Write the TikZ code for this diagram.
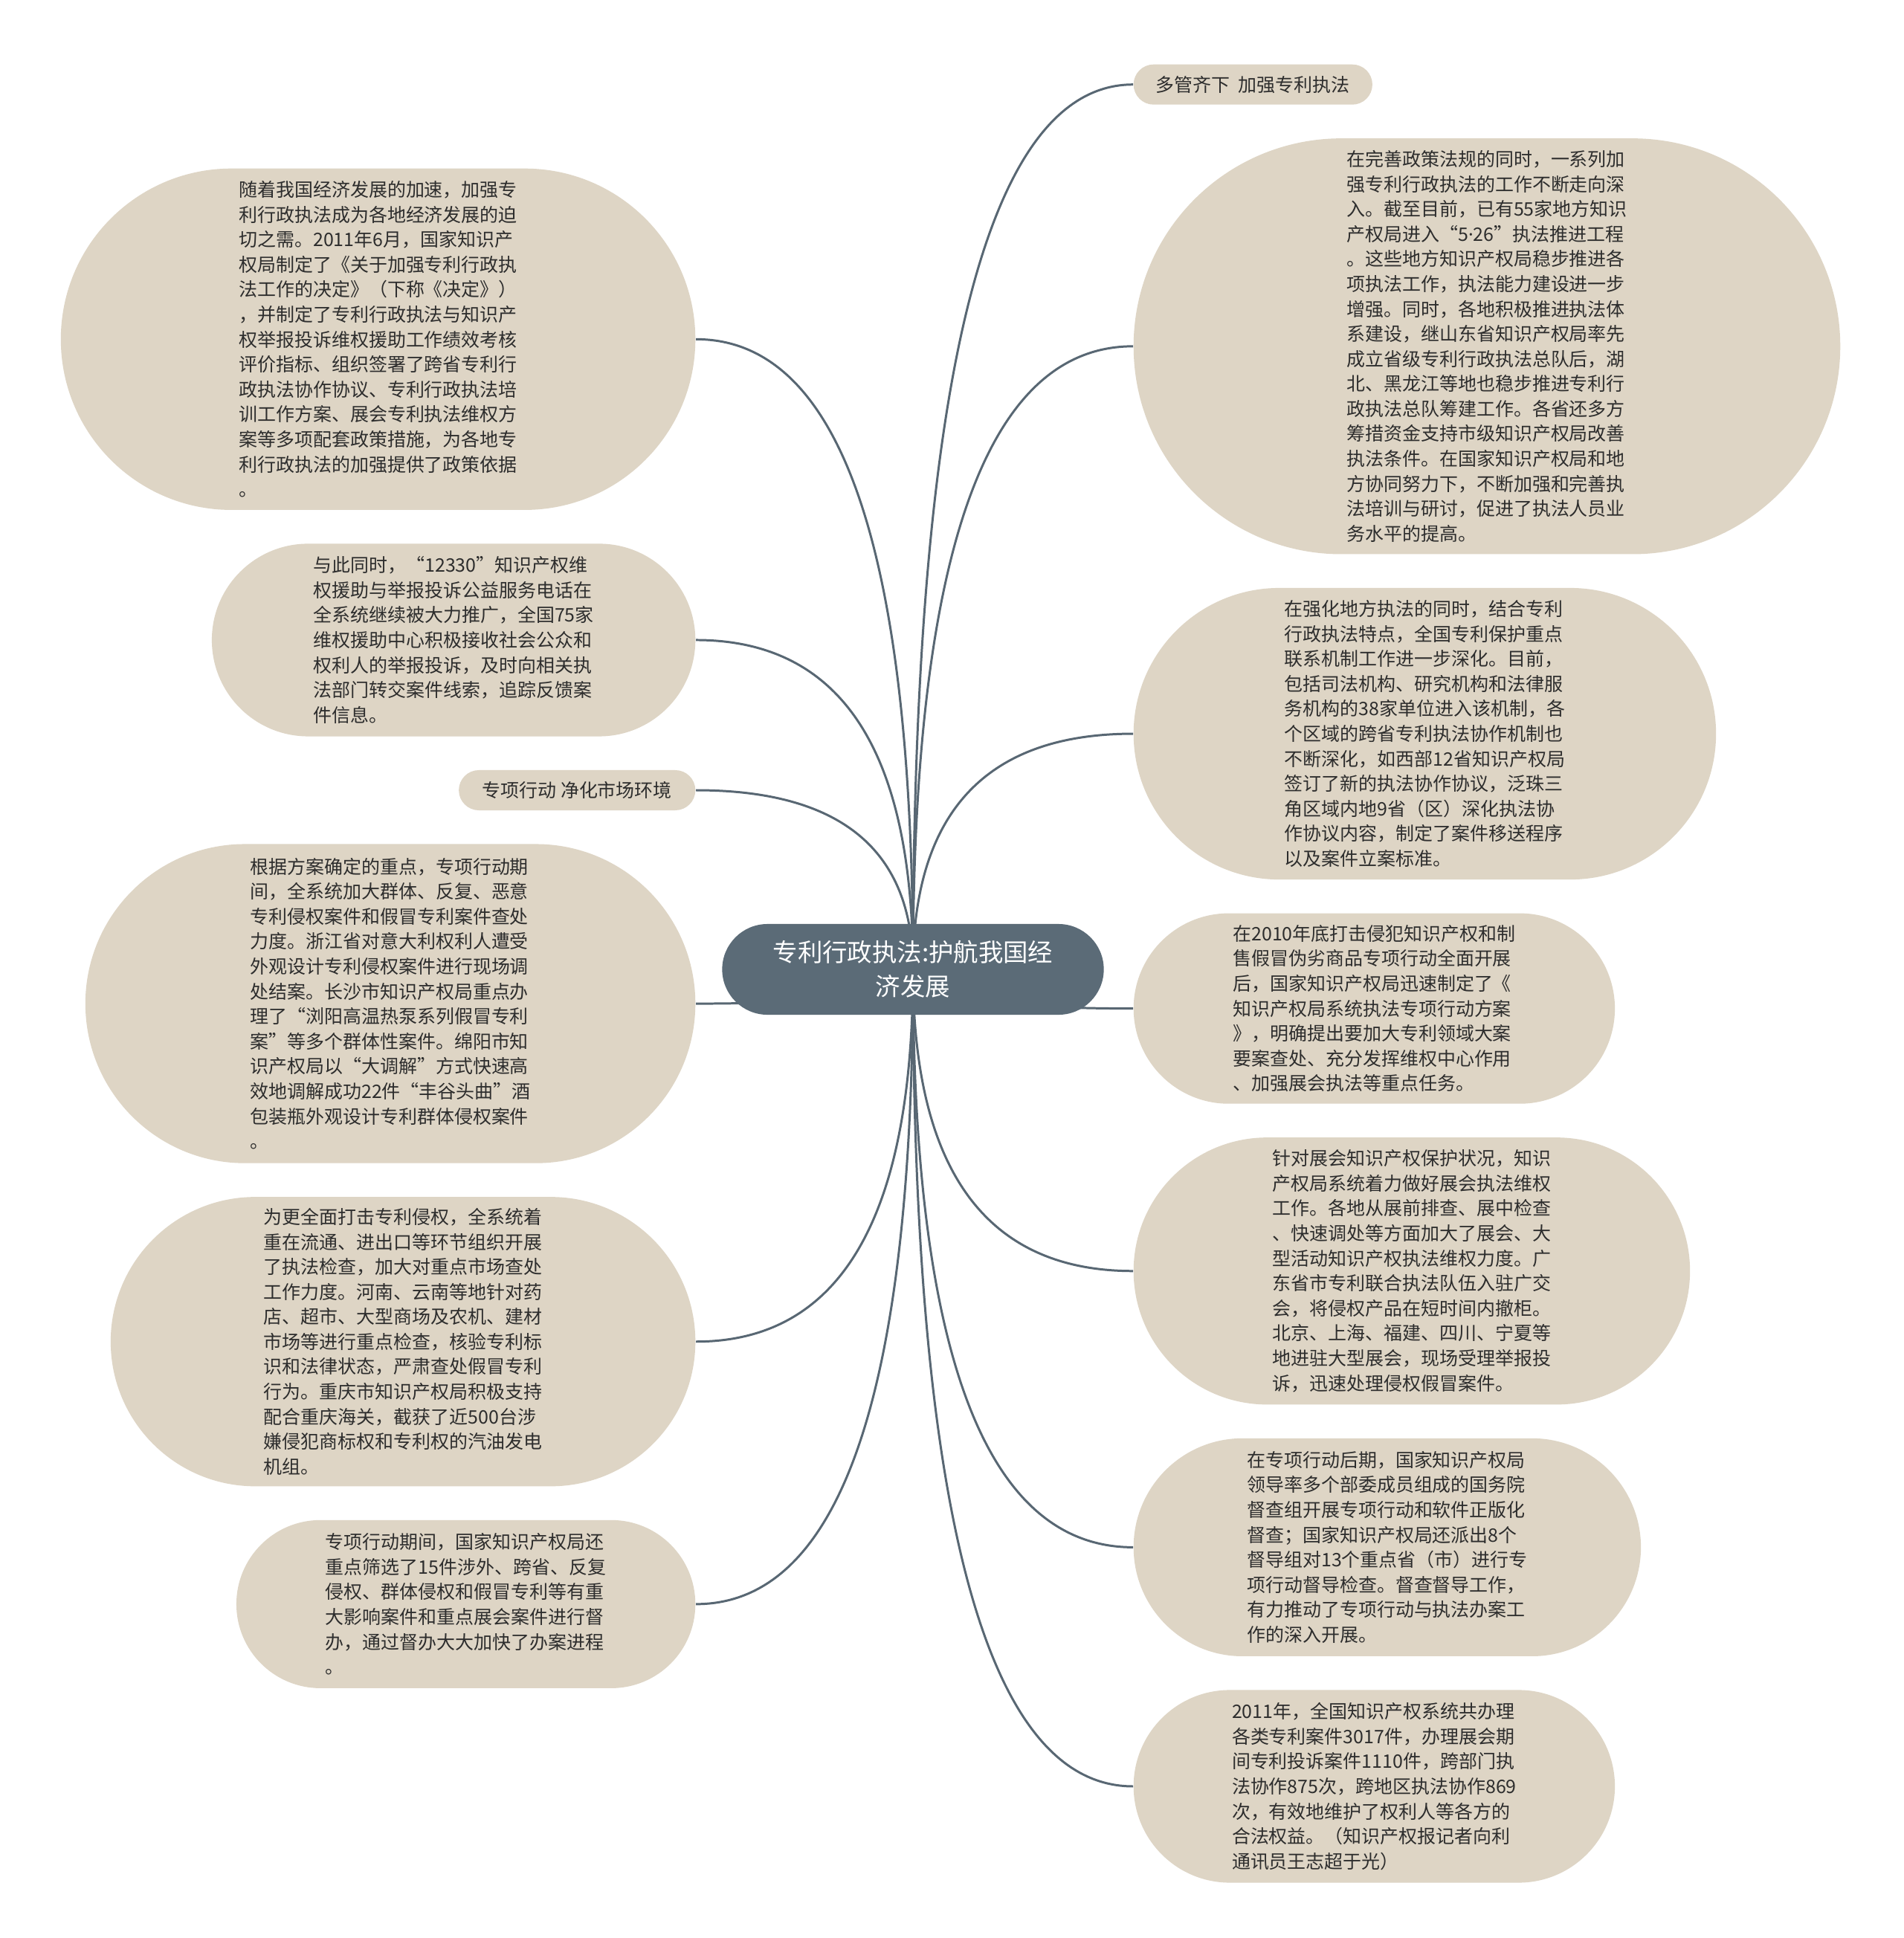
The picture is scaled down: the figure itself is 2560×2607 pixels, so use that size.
\documentclass[tikz,border=0pt]{standalone}
\usepackage{fontspec}
\setmainfont{Noto Sans CJK SC}
\newfontfamily\latinfont{Noto Sans}
\usetikzlibrary{positioning,calc,backgrounds}

\definecolor{leaffill}{RGB}{222,213,197}
\definecolor{hubfill}{RGB}{91,107,119}
\definecolor{linkcol}{RGB}{88,103,115}
\definecolor{inkcol}{RGB}{45,45,45}

\begin{document}
\begin{tikzpicture}[
    x=0.01cm, y=-0.01cm,
    node distance=4.4mm and 4.4mm,
    leaf/.style 2 args={
        fill=leaffill,
        text=inkcol,
        minimum width=#1,
        minimum height=#2,
        rounded corners=#2/2,
        inner sep=0pt,
        align=left,
        font=\fontsize{7.1pt}{9.55pt}\selectfont
    },
    pill/.style={leaf={#1}{0.54cm}, align=center},
    hub/.style={
        fill=hubfill,
        text=white,
        minimum width=5.13cm,
        minimum height=1.22cm,
        rounded corners=0.61cm,
        inner sep=0pt,
        align=center,
        font=\fontsize{9.5pt}{13.1pt}\selectfont
    },
    link/.style={
        draw=linkcol,
        line width=0.85pt,
        to path={.. controls ($(\tikztostart)!0.667!(\tikztostart |- \tikztotarget)$)
            and ($(\tikztotarget)!0.667!(\tikztostart |- \tikztotarget)$) .. (\tikztotarget)}
    }
]
\useasboundingbox (0,0) rectangle (2560,2607);

\node[hub] (core) at (1228,1304) {专利行政执法:护航我国经\\济发展};

% right column
\node[pill=3.21cm, anchor=north west] (multi) at (1524,86) {多管齐下~~加强专利执法};
\node[leaf={9.50cm}{5.59cm}, below=of multi.south west, anchor=north west] (rules) {在完善政策法规的同时，一系列加\\强专利行政执法的工作不断走向深\\入。截至目前，已有55家地方知识\\产权局进入“5{\latinfont ·}26”执法推进工程\\。这些地方知识产权局稳步推进各\\项执法工作，执法能力建设进一步\\增强。同时，各地积极推进执法体\\系建设，继山东省知识产权局率先\\成立省级专利行政执法总队后，湖\\北、黑龙江等地也稳步推进专利行\\政执法总队筹建工作。各省还多方\\筹措资金支持市级知识产权局改善\\执法条件。在国家知识产权局和地\\方协同努力下，不断加强和完善执\\法培训与研讨，促进了执法人员业\\务水平的提高。};
\node[leaf={7.83cm}{3.92cm}, below=of rules.south west, anchor=north west] (network) {在强化地方执法的同时，结合专利\\行政执法特点，全国专利保护重点\\联系机制工作进一步深化。目前，\\包括司法机构、研究机构和法律服\\务机构的38家单位进入该机制，各\\个区域的跨省专利执法协作机制也\\不断深化，如西部12省知识产权局\\签订了新的执法协作协议，泛珠三\\角区域内地9省（区）深化执法协\\作协议内容，制定了案件移送程序\\以及案件立案标准。};
\node[leaf={6.47cm}{2.56cm}, below=of network.south west, anchor=north west] (plan) {在2010年底打击侵犯知识产权和制\\售假冒伪劣商品专项行动全面开展\\后，国家知识产权局迅速制定了《\\知识产权局系统执法专项行动方案\\》，明确提出要加大专利领域大案\\要案查处、充分发挥维权中心作用\\、加强展会执法等重点任务。};
\node[leaf={7.48cm}{3.59cm}, below=of plan.south west, anchor=north west] (fairs) {针对展会知识产权保护状况，知识\\产权局系统着力做好展会执法维权\\工作。各地从展前排查、展中检查\\、快速调处等方面加大了展会、大\\型活动知识产权执法维权力度。广\\东省市专利联合执法队伍入驻广交\\会，将侵权产品在短时间内撤柜。\\北京、上海、福建、四川、宁夏等\\地进驻大型展会，现场受理举报投\\诉，迅速处理侵权假冒案件。};
\node[leaf={6.82cm}{2.93cm}, below=of fairs.south west, anchor=north west] (inspect) {在专项行动后期，国家知识产权局\\领导率多个部委成员组成的国务院\\督查组开展专项行动和软件正版化\\督查；国家知识产权局还派出8个\\督导组对13个重点省（市）进行专\\项行动督导检查。督查督导工作，\\有力推动了专项行动与执法办案工\\作的深入开展。};
\node[leaf={6.47cm}{2.59cm}, below=of inspect.south west, anchor=north west] (stats) {2011年，全国知识产权系统共办理\\各类专利案件3017件，办理展会期\\间专利投诉案件1110件，跨部门执\\法协作875次，跨地区执法协作869\\次，有效地维护了权利人等各方的\\合法权益。（知识产权报记者向利\\通讯员王志超于光）};

% left column
\node[leaf={8.53cm}{4.59cm}, anchor=north east] (basis) at (936,226) {随着我国经济发展的加速，加强专\\利行政执法成为各地经济发展的迫\\切之需。2011年6月，国家知识产\\权局制定了《关于加强专利行政执\\法工作的决定》（下称《决定》）\\，并制定了专利行政执法与知识产\\权举报投诉维权援助工作绩效考核\\评价指标、组织签署了跨省专利行\\政执法协作协议、专利行政执法培\\训工作方案、展会专利执法维权方\\案等多项配套政策措施，为各地专\\利行政执法的加强提供了政策依据\\。};
\node[leaf={6.50cm}{2.59cm}, below=of basis.south east, anchor=north east] (hotline) {与此同时，“12330”知识产权维\\权援助与举报投诉公益服务电话在\\全系统继续被大力推广，全国75家\\维权援助中心积极接收社会公众和\\权利人的举报投诉，及时向相关执\\法部门转交案件线索，追踪反馈案\\件信息。};
\node[pill=3.18cm, below=of hotline.south east, anchor=north east] (action) {专项行动 净化市场环境};
\node[leaf={8.20cm}{4.29cm}, below=of action.south east, anchor=north east] (cases) {根据方案确定的重点，专项行动期\\间，全系统加大群体、反复、恶意\\专利侵权案件和假冒专利案件查处\\力度。浙江省对意大利权利人遭受\\外观设计专利侵权案件进行现场调\\处结案。长沙市知识产权局重点办\\理了“浏阳高温热泵系列假冒专利\\案”等多个群体性案件。绵阳市知\\识产权局以“大调解”方式快速高\\效地调解成功22件“丰谷头曲”酒\\包装瓶外观设计专利群体侵权案件\\。};
\node[leaf={7.86cm}{3.89cm}, below=of cases.south east, anchor=north east] (markets) {为更全面打击专利侵权，全系统着\\重在流通、进出口等环节组织开展\\了执法检查，加大对重点市场查处\\工作力度。河南、云南等地针对药\\店、超市、大型商场及农机、建材\\市场等进行重点检查，核验专利标\\识和法律状态，严肃查处假冒专利\\行为。重庆市知识产权局积极支持\\配合重庆海关，截获了近500台涉\\嫌侵犯商标权和专利权的汽油发电\\机组。};
\node[leaf={6.17cm}{2.26cm}, below=of markets.south east, anchor=north east] (oversee) {专项行动期间，国家知识产权局还\\重点筛选了15件涉外、跨省、反复\\侵权、群体侵权和假冒专利等有重\\大影响案件和重点展会案件进行督\\办，通过督办大大加快了办案进程\\。};

\begin{scope}[on background layer]
\fill[white] (0,0) rectangle (2560,2607);
\draw[link] (core.center) to (multi.west);
\draw[link] (core.center) to (rules.west);
\draw[link] (core.center) to (network.west);
\draw[link] (core.center) to (plan.west);
\draw[link] (core.center) to (fairs.west);
\draw[link] (core.center) to (inspect.west);
\draw[link] (core.center) to (stats.west);
\draw[link] (core.center) to (basis.east);
\draw[link] (core.center) to (hotline.east);
\draw[link] (core.center) to (action.east);
\draw[link] (core.center) to (cases.east);
\draw[link] (core.center) to (markets.east);
\draw[link] (core.center) to (oversee.east);
\end{scope}
\end{tikzpicture}
\end{document}
